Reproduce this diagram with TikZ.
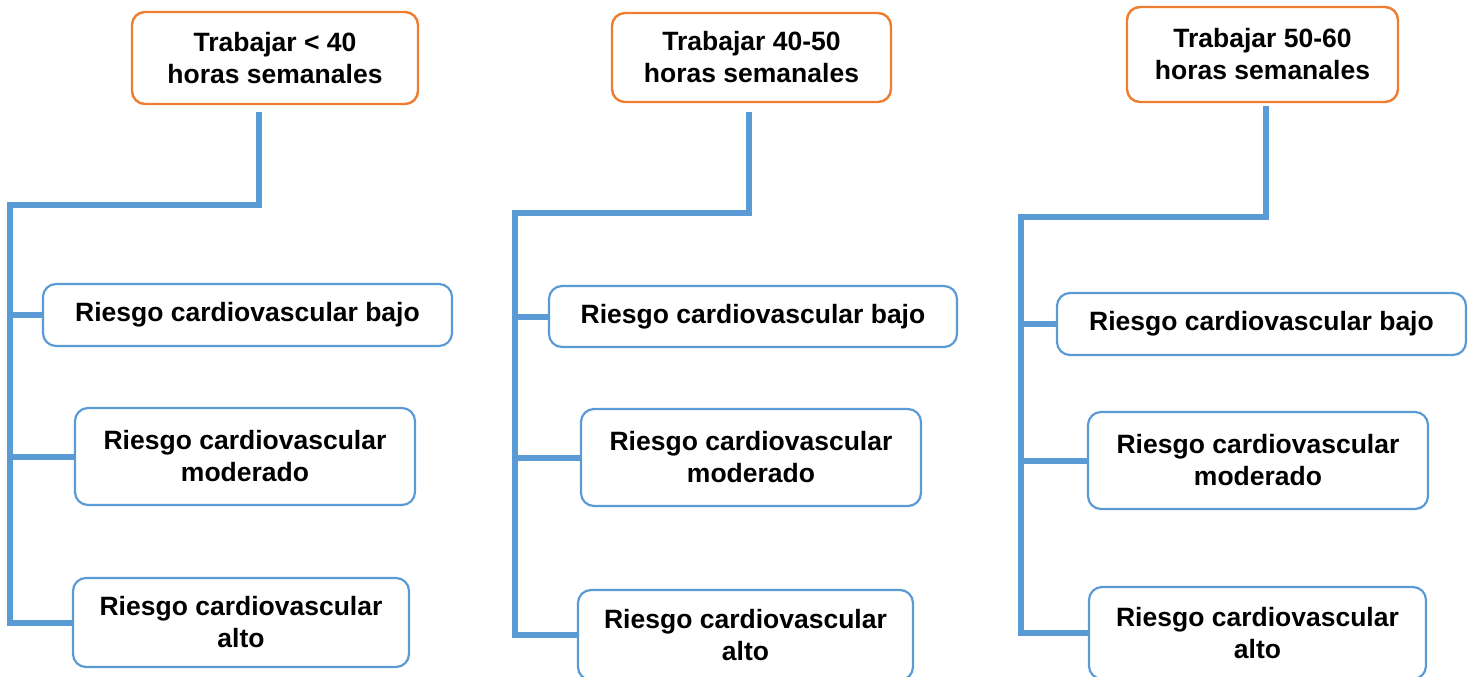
\documentclass[tikz,border=0pt]{standalone}
\usepackage{fontspec}
\setmainfont{Liberation Sans}
\usepackage{tikz}
\usetikzlibrary{calc, positioning}
\usepackage{xcolor}
\definecolor{boxorange}{RGB}{237,125,49}
\definecolor{lineblue}{RGB}{91,155,213}

\begin{document}
\begin{tikzpicture}[x=1pt, y=-1pt]
				\tikzstyle{hours} = [draw=boxorange, line width=2.4pt, rounded corners=13pt, align=center, inner sep=0pt, font=\fontsize{26.5}{32}\selectfont\bfseries]
				\tikzstyle{risk} = [draw=lineblue, line width=2.2pt, rounded corners=13pt, align=center, inner sep=0pt, font=\fontsize{26.5}{32}\selectfont\bfseries]
				\tikzstyle{branch} = [draw=lineblue, line width=6pt]
				
				\useasboundingbox (0,0) rectangle (1473,677);
				
				% first column
				\node[hours, minimum width=286pt, minimum height=92pt]	at (275, 58)		(t1)	{Trabajar < 40\\horas semanales};
				\node[risk, minimum width=409pt, minimum height=62pt]	at (247.5, 315)		(b1)	{Riesgo cardiovascular bajo};
				\node[risk, minimum width=340pt, minimum height=97pt]	at (245, 456.5)		(m1)	{Riesgo cardiovascular\\moderado};
				\node[risk, minimum width=336pt, minimum height=89pt]	at (241, 622.5)		(a1)	{Riesgo cardiovascular\\alto};
				\coordinate (v1) at (259, 112);
				\coordinate (c1) at (259, 205);
				\coordinate (s1) at (10, 205);
				
				% second column
				\node[hours, minimum width=279pt, minimum height=89pt]	at (751.5, 57.5)	(t2)	{Trabajar 40-50\\horas semanales};
				\node[risk, minimum width=408pt, minimum height=61pt]	at (753, 316.5)		(b2)	{Riesgo cardiovascular bajo};
				\node[risk, minimum width=340pt, minimum height=97pt]	at (751, 457.5)		(m2)	{Riesgo cardiovascular\\moderado};
				\node[risk, minimum width=335pt, minimum height=90pt]	at (745.5, 635)		(a2)	{Riesgo cardiovascular\\alto};
				\coordinate (v2) at (749, 112);
				\coordinate (c2) at (749, 213);
				\coordinate (s2) at (515, 213);
				
				% third column
				\node[hours, minimum width=271pt, minimum height=95pt]	at (1262.5, 54.5)	(t3)	{Trabajar 50-60\\horas semanales};
				\node[risk, minimum width=409pt, minimum height=62pt]	at (1261.5, 324)	(b3)	{Riesgo cardiovascular bajo};
				\node[risk, minimum width=340pt, minimum height=97pt]	at (1258, 460.5)	(m3)	{Riesgo cardiovascular\\moderado};
				\node[risk, minimum width=337pt, minimum height=92pt]	at (1257.5, 633)	(a3)	{Riesgo cardiovascular\\alto};
				\coordinate (v3) at (1266, 106);
				\coordinate (c3) at (1266, 217);
				\coordinate (s3) at (1021, 217);
				
				\draw[branch] (v1) -- (c1) -- (s1) -- (s1 |- a1.west) -- (a1.west);
				\draw[branch] (s1 |- b1.west) -- (b1.west);
				\draw[branch] (s1 |- m1.west) -- (m1.west);
				
				\draw[branch] (v2) -- (c2) -- (s2) -- (s2 |- a2.west) -- (a2.west);
				\draw[branch] (s2 |- b2.west) -- (b2.west);
				\draw[branch] (s2 |- m2.west) -- (m2.west);
				
				\draw[branch] (v3) -- (c3) -- (s3) -- (s3 |- a3.west) -- (a3.west);
				\draw[branch] (s3 |- b3.west) -- (b3.west);
				\draw[branch] (s3 |- m3.west) -- (m3.west);
			\end{tikzpicture}
\end{document}
